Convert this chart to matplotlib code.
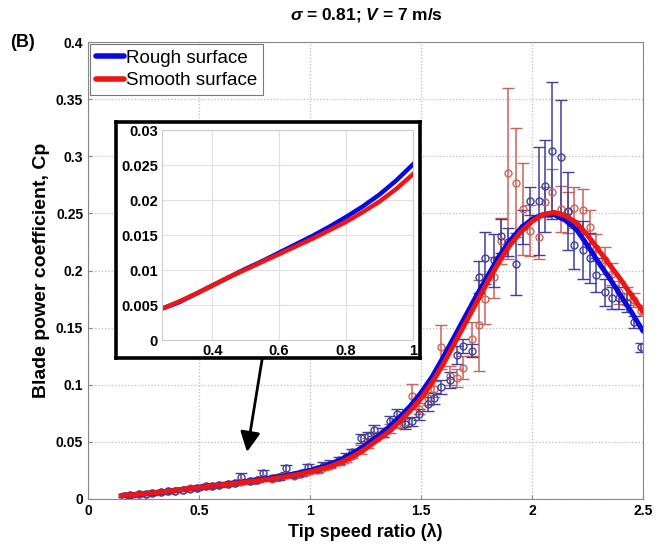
import matplotlib
matplotlib.use("Agg")
import matplotlib.pyplot as plt

plt.rcParams['font.family'] = ['Liberation Sans', 'DejaVu Sans']
plt.rcParams['mathtext.fontset'] = 'custom'
plt.rcParams['mathtext.it'] = 'Liberation Sans:italic:bold'
plt.rcParams['mathtext.rm'] = 'Liberation Sans:bold'

# fitted curves
tsr_fit = [0.15, 0.2, 0.25, 0.3, 0.35, 0.4, 0.45, 0.5, 0.55, 0.6, 0.65, 0.7,
           0.75, 0.8, 0.85, 0.9, 0.95, 1.0, 1.05, 1.1, 1.15, 1.2, 1.25, 1.3,
           1.35, 1.4, 1.45, 1.5, 1.55, 1.6, 1.65, 1.7, 1.75, 1.8, 1.85, 1.9,
           1.95, 2.0, 2.05, 2.1, 2.15, 2.2, 2.25, 2.3, 2.35, 2.4, 2.45, 2.5]
cp_rough_fit = [0.0030, 0.0037, 0.0045, 0.0054, 0.0066, 0.0078, 0.0090, 0.0102,
                0.0113, 0.0125, 0.0137, 0.0149, 0.0162, 0.0176, 0.0191, 0.0208,
                0.0228, 0.0251, 0.0277, 0.031, 0.0355, 0.041, 0.047, 0.054, 0.062,
                0.071, 0.081, 0.093, 0.107, 0.124, 0.142, 0.160, 0.178, 0.195,
                0.212, 0.226, 0.237, 0.245, 0.249, 0.249, 0.244, 0.236, 0.222,
                0.207, 0.193, 0.178, 0.163, 0.147]
cp_smooth_fit = [0.0030, 0.0037, 0.0045, 0.0055, 0.0066, 0.0078, 0.0090, 0.0101,
                 0.0112, 0.0123, 0.0134, 0.0145, 0.0157, 0.0169, 0.0183, 0.0198,
                 0.0216, 0.0237, 0.0262, 0.029, 0.033, 0.038, 0.044, 0.051, 0.058,
                 0.067, 0.077, 0.088, 0.102, 0.118, 0.136, 0.154, 0.172, 0.190,
                 0.207, 0.222, 0.234, 0.243, 0.249, 0.251, 0.248, 0.242, 0.231,
                 0.218, 0.205, 0.192, 0.178, 0.164]

# experimental points
tsr_exp = [0.16, 0.19, 0.23, 0.26, 0.29, 0.33, 0.36, 0.39, 0.43, 0.46, 0.49, 0.53,
           0.56, 0.59, 0.63, 0.66, 0.69, 0.73, 0.76, 0.79, 0.83, 0.86, 0.89, 0.93,
           0.96, 0.99, 1.03, 1.06, 1.09, 1.13, 1.16, 1.19, 1.23, 1.26, 1.29, 1.33,
           1.36, 1.39, 1.43, 1.46, 1.49, 1.53, 1.56, 1.59, 1.63, 1.66, 1.69, 1.73,
           1.76, 1.79, 1.83, 1.86, 1.89, 1.93, 1.96, 1.99, 2.03, 2.06, 2.09, 2.13,
           2.16, 2.19, 2.23, 2.26, 2.29, 2.33, 2.36, 2.39, 2.43, 2.46, 2.49]
cp_rough = [0.003, 0.0035, 0.004, 0.0048, 0.0052, 0.006, 0.0068, 0.0074, 0.0082,
            0.009, 0.0098, 0.0112, 0.0115, 0.0122, 0.0132, 0.014, 0.0195, 0.0158,
            0.0168, 0.0225, 0.0185, 0.019, 0.0268, 0.021, 0.0225, 0.0278, 0.026,
            0.029, 0.031, 0.034, 0.037, 0.041, 0.053, 0.055, 0.060, 0.058, 0.068,
            0.074, 0.066, 0.068, 0.074, 0.083, 0.088, 0.098, 0.104, 0.126, 0.134,
            0.130, 0.194, 0.211, 0.209, 0.230, 0.225, 0.206, 0.238, 0.261, 0.261,
            0.274, 0.305, 0.299, 0.252, 0.222, 0.218, 0.211, 0.196, 0.181, 0.176,
            0.176, 0.172, 0.155, 0.133]
err_rough = [0.0015] * 14 + [
    0.002, 0.002, 0.003, 0.002, 0.002, 0.003, 0.002, 0.002, 0.003, 0.002, 0.002,
    0.003, 0.002, 0.003, 0.003, 0.003, 0.003, 0.003, 0.004, 0.004, 0.005, 0.004,
    0.005, 0.005, 0.005, 0.004, 0.005, 0.006, 0.005, 0.006, 0.007, 0.008, 0.006,
    0.006, 0.014, 0.023, 0.023, 0.015, 0.012, 0.027, 0.015, 0.012, 0.047, 0.040,
    0.060, 0.050, 0.034, 0.021, 0.025, 0.022, 0.015, 0.012, 0.010, 0.010, 0.008,
    0.005, 0.004]
cp_smooth = [0.003, 0.0035, 0.0042, 0.0047, 0.0053, 0.006, 0.0067, 0.0073, 0.0083,
             0.0092, 0.0100, 0.011, 0.0118, 0.0125, 0.0133, 0.014, 0.0148, 0.0155,
             0.0165, 0.018, 0.0178, 0.0195, 0.021, 0.0205, 0.022, 0.024, 0.025,
             0.027, 0.029, 0.032, 0.034, 0.038, 0.043, 0.049, 0.055, 0.058, 0.062,
             0.066, 0.067, 0.090, 0.079, 0.088, 0.096, 0.133, 0.108, 0.106, 0.115,
             0.140, 0.152, 0.175, 0.194, 0.226, 0.285, 0.277, 0.254, 0.235, 0.229,
             0.260, 0.269, 0.254, 0.251, 0.255, 0.253, 0.238, 0.220, 0.209, 0.197,
             0.181, 0.178, 0.174, 0.165]
err_smooth = [0.0015] * 14 + [0.002] * 18 + [
    0.004, 0.004, 0.004, 0.004, 0.004, 0.004, 0.004, 0.011, 0.005, 0.006, 0.007,
    0.019, 0.008, 0.008, 0.010, 0.015, 0.040, 0.022, 0.018, 0.020, 0.075, 0.048,
    0.040, 0.022, 0.019, 0.013, 0.020, 0.020, 0.018, 0.018, 0.018, 0.015, 0.012,
    0.012, 0.010, 0.010, 0.008, 0.006, 0.005]

x_ticks = [0, 0.5, 1, 1.5, 2, 2.5]
x_labels = ["0", "0.5", "1", "1.5", "2", "2.5"]
y_ticks = [0, 0.05, 0.1, 0.15, 0.2, 0.25, 0.3, 0.35, 0.4]
y_labels = ["0", "0.05", "0.1", "0.15", "0.2", "0.25", "0.3", "0.35", "0.4"]
in_x_ticks = [0.4, 0.6, 0.8, 1.0]
in_x_labels = ["0.4", "0.6", "0.8", "1"]
in_y_ticks = [0, 0.005, 0.01, 0.015, 0.02, 0.025, 0.03]
in_y_labels = ["0", "0.005", "0.01", "0.015", "0.02", "0.025", "0.03"]

c_rough_pt = '#40409a'
c_smooth_pt = '#c8645a'
c_rough = '#0a0ae0'
c_smooth = '#ee1515'

fig = plt.figure(figsize=(6.67, 5.54), dpi=100)
ax = fig.add_axes([0.132, 0.0993, 0.832, 0.8247])

for cp, err, col in [(cp_smooth, err_smooth, c_smooth_pt),
                     (cp_rough, err_rough, c_rough_pt)]:
    ax.errorbar(tsr_exp, cp, yerr=err, fmt='o', ms=5, mfc='none', mec=col,
                mew=1.0, ecolor=col, elinewidth=1.1, capsize=4, capthick=1.1,
                zorder=2)

ax.plot(tsr_fit, cp_rough_fit, color=c_rough, lw=3.6, label='Rough surface',
        zorder=3, solid_capstyle='round')
ax.plot(tsr_fit, cp_smooth_fit, color=c_smooth, lw=3.6, label='Smooth surface',
        zorder=3, solid_capstyle='round')

ax.set_xlim(0, 2.5)
ax.set_ylim(0, 0.4)
ax.set_xticks(x_ticks)
ax.set_xticklabels(x_labels, fontweight='bold', fontsize=10)
ax.set_yticks(y_ticks)
ax.set_yticklabels(y_labels, fontweight='bold', fontsize=10)
ax.tick_params(direction='in', length=3, color='#888888')
ax.grid(True, ls=':', color='#bbbbbb', lw=0.9)
for s in ax.spines.values():
    s.set_color('#888888')
    s.set_linewidth(0.8)
ax.set_xlabel('Tip speed ratio (\u03bb)', fontweight='bold', fontsize=13)
ax.set_ylabel('Blade power coefficient, Cp', fontweight='bold', fontsize=14)

leg = ax.legend(loc='upper left', fontsize=13.5, handlelength=1.5,
                handletextpad=0.15, borderpad=0.3, labelspacing=0.3,
                fancybox=False, borderaxespad=0.1)
leg.get_frame().set_edgecolor('#555555')
leg.get_frame().set_linewidth(0.8)
for h in leg.get_lines():
    h.set_linewidth(4)

fig.text(0.549, 0.973, r'$\sigma$ = 0.81; $V$ = 7 m/s', ha='center', va='center',
         fontsize=12.5, fontweight='bold')
fig.text(0.015, 0.924, '(B)', ha='left', va='center', fontsize=13,
         fontweight='bold')

# black frame behind the inset
frame = fig.add_axes([0.174, 0.354, 0.456, 0.426])
frame.set_xticks([])
frame.set_yticks([])
for s in frame.spines.values():
    s.set_color('black')
    s.set_linewidth(2.6)

ins = fig.add_axes([0.243, 0.386, 0.376, 0.379])
ins.plot(tsr_fit, cp_rough_fit, color=c_rough, lw=3.2)
ins.plot(tsr_fit, cp_smooth_fit, color=c_smooth, lw=3.2)
ins.set_xlim(0.25, 1.0)
ins.set_ylim(0, 0.03)
ins.set_xticks(in_x_ticks)
ins.set_xticklabels(in_x_labels, fontweight='bold', fontsize=10.5)
ins.set_yticks(in_y_ticks)
ins.set_yticklabels(in_y_labels, fontweight='bold', fontsize=10.5)
ins.tick_params(length=0, pad=3)
ins.grid(True, color='#e0e0e0', lw=0.8)
for s in ins.spines.values():
    s.set_color('#cccccc')
    s.set_linewidth(0.8)

# arrow from the inset down to the curve
fig.add_artist(matplotlib.patches.FancyArrowPatch(
    (262 / 667, 1 - 360 / 554), (247 / 667, 1 - 452 / 554),
    transform=fig.transFigure, arrowstyle='-|>,head_length=8,head_width=4',
    color='black', lw=2.0, mutation_scale=1.5, shrinkA=0, shrinkB=0))

fig.savefig('out.png', dpi=100)
